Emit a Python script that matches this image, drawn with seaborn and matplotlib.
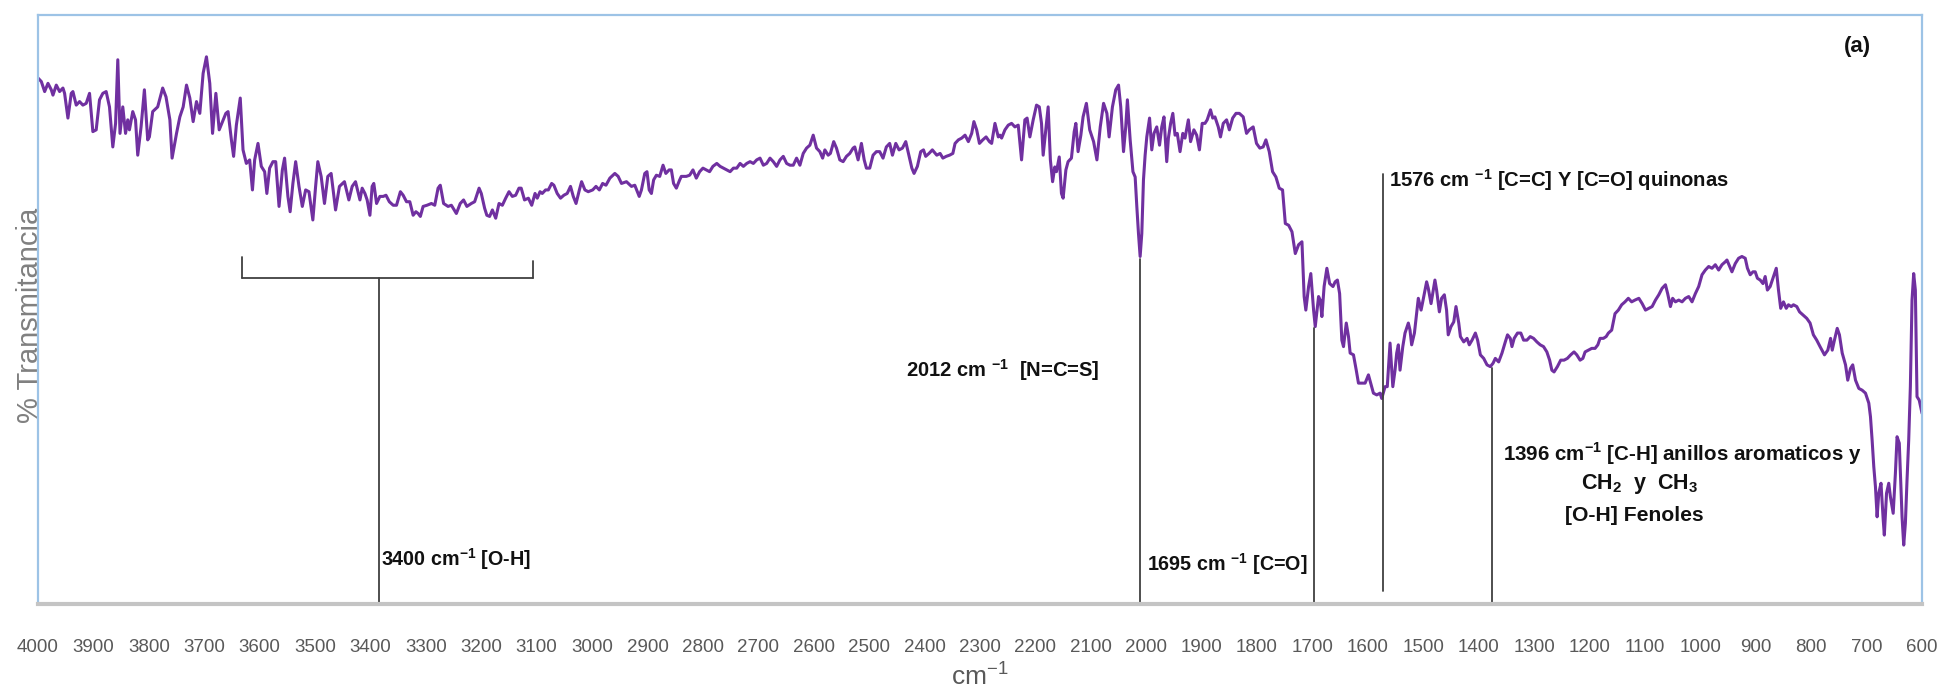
import matplotlib
matplotlib.use("Agg")
import numpy as np
import pandas as pd
import matplotlib.pyplot as plt
import seaborn as sns
from matplotlib import rcParams

# FTIR spectrum, in segments (wavenumber cm-1, % transmittance)
wn_a = [4000, 3994, 3988, 3982, 3976, 3973, 3967, 3961, 3955, 3952, 3946, 3940, 3937, 3931, 3925, 3919, 3913, 3907,
        3901, 3895, 3889, 3883, 3877, 3871, 3865, 3860, 3856, 3852, 3847, 3842, 3838, 3835, 3829, 3824, 3820, 3814,
        3808, 3802, 3799, 3793, 3784, 3775, 3769, 3762, 3758, 3750, 3744, 3738, 3732, 3726, 3720, 3714, 3708, 3702,
        3696, 3690, 3685, 3679, 3673, 3667, 3661, 3657, 3651, 3647, 3642, 3635, 3630, 3624, 3618, 3613, 3609, 3603,
        3597, 3591, 3587, 3582, 3576, 3571, 3565, 3559, 3555, 3549, 3545, 3540, 3535, 3529, 3523, 3517, 3511, 3504,
        3499, 3495, 3489, 3483, 3477, 3471, 3463, 3456, 3447, 3439, 3433, 3427, 3419]
t_a = [89.3, 88.7, 87.0, 88.4, 87.3, 86.4, 88.1, 87.0, 87.6, 86.7, 82.5, 86.7, 87.0, 84.7, 85.3, 84.7, 85.0, 86.7,
       80.2, 80.5, 85.6, 86.7, 87.0, 84.4, 77.6, 81.6, 92.4, 79.9, 84.4, 79.9, 82.2, 80.5, 83.6, 82.2, 76.2, 81.0,
       87.3, 78.8, 79.3, 83.6, 84.4, 87.6, 86.1, 82.2, 75.7, 79.9, 82.7, 84.4, 88.1, 85.9, 81.9, 85.3, 83.3, 90.1,
       92.9, 88.4, 79.9, 86.7, 80.5, 81.9, 83.3, 83.6, 78.8, 76.0, 81.3, 85.9, 77.1, 74.8, 75.4, 70.3, 75.4, 78.2,
       74.3, 73.4, 69.7, 74.0, 75.1, 75.1, 67.5, 73.7, 75.7, 69.2, 66.6, 71.4, 75.1, 70.9, 67.5, 70.3, 70.0, 65.2,
       70.9, 75.1, 72.6, 68.0, 72.6, 73.1, 66.9, 70.9, 71.7, 68.6, 70.9, 71.7, 68.6]

wn_b = [3415, 3410, 3406, 3401, 3397, 3394, 3389, 3383, 3377, 3372, 3366, 3359, 3353, 3346, 3341, 3335, 3329, 3323,
        3318, 3314, 3310, 3305, 3298, 3290, 3284, 3278, 3274, 3268, 3260, 3254, 3245, 3238, 3232, 3226, 3218, 3212,
        3204, 3200, 3194, 3190, 3185, 3180, 3174, 3168, 3162, 3156, 3150, 3144, 3138, 3132, 3128, 3122, 3115, 3109,
        3103, 3099, 3094, 3090, 3084, 3079, 3073, 3069, 3063, 3057, 3051, 3045, 3039, 3034, 3029, 3023, 3019, 3013,
        3007, 2999, 2993, 2987, 2981, 2975, 2968, 2959, 2953, 2947, 2938, 2929, 2923, 2915, 2911, 2905, 2901, 2897,
        2893, 2889, 2884, 2878, 2872, 2867, 2861, 2857, 2853, 2848, 2842]
t_b = [70.6, 69.7, 68.6, 66.0, 70.9, 71.4, 68.0, 69.2, 69.2, 69.4, 68.3, 67.7, 67.7, 70.0, 69.4, 68.3, 68.3, 66.0,
       66.6, 66.3, 65.8, 67.5, 67.7, 68.0, 67.7, 70.6, 71.1, 68.0, 67.5, 67.7, 66.3, 68.0, 68.6, 67.5, 68.0, 68.3,
       70.6, 69.7, 67.2, 66.0, 65.8, 66.9, 65.5, 68.0, 67.7, 68.9, 70.0, 69.2, 69.4, 70.6, 70.6, 68.6, 68.9, 67.7,
       69.7, 68.9, 70.0, 69.7, 70.3, 70.3, 71.4, 71.1, 69.7, 68.9, 69.4, 69.7, 70.9, 69.2, 68.0, 70.3, 71.7, 70.3,
       70.0, 70.3, 70.9, 70.3, 71.4, 71.1, 72.3, 73.1, 72.6, 71.4, 71.7, 70.9, 71.1, 69.2, 70.3, 73.1, 73.4, 70.3,
       69.7, 72.0, 72.8, 72.6, 74.5, 73.1, 73.7, 73.7, 71.4, 70.6, 72.0]

wn_c = [2839, 2830, 2824, 2818, 2812, 2806, 2800, 2794, 2788, 2782, 2775, 2769, 2763, 2757, 2751, 2745, 2739, 2733,
        2727, 2721, 2715, 2709, 2703, 2697, 2691, 2685, 2679, 2673, 2667, 2661, 2655, 2649, 2643, 2637, 2631, 2625,
        2619, 2613, 2607, 2601, 2595, 2589, 2584, 2580, 2574, 2570, 2564, 2559, 2553, 2547, 2541, 2535, 2529, 2526,
        2520, 2514, 2509, 2505, 2499, 2493, 2487, 2481, 2475, 2469, 2463, 2458, 2452, 2446, 2440, 2434, 2428, 2423,
        2419, 2413, 2407, 2402, 2398, 2392, 2386, 2378, 2372, 2367, 2361, 2355, 2349, 2345, 2339, 2333, 2327, 2321,
        2315, 2311, 2306, 2301, 2295, 2289, 2283, 2279, 2273, 2267, 2264]
t_c = [72.6, 72.6, 72.8, 73.7, 72.3, 73.4, 74.0, 73.7, 73.4, 74.3, 74.8, 74.3, 74.0, 73.7, 73.4, 74.0, 74.0, 74.8,
       74.3, 74.8, 75.1, 74.8, 75.4, 75.7, 74.5, 74.8, 75.7, 75.1, 74.3, 75.4, 76.0, 74.8, 74.5, 74.5, 75.7, 74.5,
       76.5, 77.4, 77.9, 79.6, 77.4, 76.8, 75.7, 77.1, 76.2, 76.5, 78.5, 77.4, 75.4, 75.1, 76.0, 76.5, 77.4, 77.6,
       75.4, 78.2, 75.4, 74.0, 74.0, 76.2, 76.8, 76.8, 75.7, 77.6, 78.2, 76.2, 78.2, 77.1, 77.4, 78.5, 76.0, 74.0,
       73.1, 74.3, 76.8, 77.1, 76.0, 76.5, 77.1, 76.2, 76.5, 75.7, 76.0, 76.2, 76.5, 78.2, 78.8, 79.1, 79.6, 78.5,
       79.9, 81.9, 80.5, 78.2, 78.8, 79.3, 78.5, 78.2, 81.6, 79.3, 79.6]

wn_d = [2261, 2255, 2249, 2243, 2237, 2231, 2225, 2219, 2215, 2210, 2204, 2198, 2193, 2189, 2186, 2181, 2177, 2173,
        2169, 2165, 2162, 2157, 2153, 2150, 2145, 2141, 2135, 2130, 2127, 2123, 2118, 2114, 2108, 2102, 2095, 2089,
        2083, 2077, 2071, 2067, 2061, 2055, 2050, 2046, 2041, 2037, 2034, 2029, 2024, 2020, 2017, 2014, 2011, 2008,
        2005, 2002, 1999, 1994, 1990, 1986, 1981, 1976, 1972, 1968, 1963, 1960, 1956, 1952, 1948, 1944, 1939, 1934,
        1930, 1924, 1920, 1914, 1909, 1904, 1899, 1894, 1890, 1884, 1880, 1876, 1870, 1866, 1861, 1855, 1850, 1844,
        1838, 1832, 1825, 1819, 1814, 1807, 1801, 1795, 1789, 1784, 1778, 1772, 1766, 1760, 1754, 1749, 1743, 1737,
        1731, 1725, 1719, 1715, 1712, 1707, 1703, 1698, 1695, 1689, 1686]
t_d = [79.1, 80.5, 81.3, 81.6, 81.0, 81.3, 75.4, 82.2, 82.5, 79.3, 82.2, 84.7, 84.4, 81.6, 76.2, 80.8, 84.4, 75.4,
       71.7, 74.2, 73.4, 75.9, 69.7, 68.9, 73.7, 75.1, 75.7, 80.2, 81.6, 76.8, 79.6, 82.7, 85.0, 80.5, 78.5, 75.4,
       81.0, 85.0, 83.3, 79.3, 84.4, 87.3, 88.1, 84.4, 76.8, 81.0, 85.6, 78.8, 73.4, 72.5, 67.5, 62.9, 59.0, 62.9,
       72.0, 76.2, 79.3, 82.5, 77.1, 79.9, 81.0, 77.9, 81.0, 82.7, 75.1, 79.1, 81.6, 83.3, 79.6, 79.9, 76.8, 79.9,
       79.1, 82.2, 78.5, 80.5, 79.6, 77.1, 81.6, 81.6, 82.2, 83.9, 82.5, 82.7, 81.0, 79.3, 81.6, 82.2, 80.5, 82.5,
       83.3, 83.3, 82.7, 79.9, 80.5, 81.0, 78.2, 77.4, 77.6, 78.8, 76.8, 73.4, 72.5, 70.6, 70.3, 64.6, 64.3, 63.2,
       59.5, 61.0, 61.5, 52.2, 49.9, 53.9, 56.1, 49.9, 47.1, 52.2, 51.6]

wn_e = [1683, 1679, 1674, 1669, 1663, 1659, 1655, 1651, 1647, 1644, 1639, 1635, 1632, 1626, 1621, 1617, 1611, 1605,
        1599, 1595, 1590, 1584, 1578, 1575, 1569, 1565, 1560, 1555, 1551, 1548, 1545, 1542, 1537, 1533, 1527, 1524,
        1521, 1516, 1512, 1509, 1504, 1501, 1497, 1494, 1491, 1486, 1483, 1479, 1476, 1471, 1467, 1462, 1458, 1455,
        1450, 1445, 1441, 1436, 1433, 1427, 1421, 1417, 1412, 1406, 1402, 1397, 1391, 1385, 1379, 1374, 1370, 1364,
        1358, 1352, 1348, 1343, 1340, 1336, 1330, 1324, 1319, 1313, 1307, 1301, 1295, 1289, 1283, 1277, 1272, 1268,
        1264, 1258, 1252, 1246, 1240, 1234, 1228, 1223, 1217, 1212, 1208, 1202, 1196, 1190, 1185, 1181, 1175, 1170,
        1166, 1160, 1154, 1148, 1142, 1136, 1130]
t_e = [48.8, 53.9, 57.0, 54.4, 53.9, 54.7, 55.0, 52.7, 44.8, 43.7, 47.7, 45.4, 42.6, 42.3, 39.7, 37.5, 37.5, 37.5,
       38.9, 37.5, 35.8, 35.5, 35.8, 34.9, 36.9, 36.9, 44.3, 36.9, 39.7, 42.6, 44.0, 39.7, 43.7, 46.0, 47.7, 46.5,
       44.0, 46.0, 49.3, 51.9, 49.9, 51.3, 53.3, 54.7, 53.6, 51.0, 52.7, 55.0, 53.3, 49.6, 51.9, 52.5, 49.9, 45.7,
       47.1, 47.9, 50.5, 47.7, 45.4, 44.5, 45.1, 44.0, 44.8, 46.0, 44.8, 42.3, 41.7, 40.6, 40.3, 40.9, 41.7, 41.1,
       42.6, 44.5, 45.7, 45.1, 43.7, 45.1, 46.0, 46.0, 44.8, 44.8, 45.4, 45.1, 44.5, 44.0, 43.7, 42.8, 41.4, 39.7,
       39.4, 40.3, 41.4, 41.4, 41.7, 42.3, 42.8, 42.3, 41.4, 41.7, 42.8, 43.1, 43.4, 43.4, 44.0, 45.1, 45.1, 45.4,
       46.0, 46.5, 49.3, 49.9, 50.8, 51.3, 51.9]

wn_f = [1124, 1118, 1111, 1105, 1099, 1093, 1087, 1081, 1075, 1069, 1063, 1059, 1054, 1050, 1045, 1039, 1033, 1027,
        1021, 1015, 1009, 1003, 997, 991, 985, 979, 973, 967, 961, 955, 952, 947, 943, 937, 931, 925, 919, 915, 910,
        905, 901, 897, 892, 887, 883, 879, 874, 868, 863, 859, 855, 850, 845, 841, 836, 832, 826, 821, 815, 808, 802,
        796, 790, 784, 776, 770, 765, 762, 758, 753, 749, 744, 738, 734, 729, 725, 720, 714, 708, 702, 696, 693, 690,
        687, 684, 681, 678, 674, 670, 668, 664, 660, 657, 652, 648, 645, 641, 639, 636, 633, 630, 627, 624, 621, 618,
        615, 612, 609, 605, 600]
t_f = [51.3, 51.6, 51.9, 51.0, 49.9, 50.2, 50.5, 51.6, 52.5, 53.6, 54.2, 52.7, 50.5, 51.9, 51.3, 51.6, 51.3, 51.9,
       52.2, 51.3, 52.7, 53.9, 55.9, 56.7, 57.3, 57.0, 57.6, 56.7, 57.6, 58.1, 58.4, 57.3, 56.4, 57.8, 58.7, 59.0,
       58.7, 57.0, 55.9, 56.4, 56.4, 55.3, 55.0, 54.4, 55.6, 53.3, 53.9, 55.6, 57.0, 53.3, 50.2, 51.3, 50.2, 50.8,
       50.5, 50.8, 50.5, 49.6, 49.1, 48.5, 47.7, 45.7, 44.8, 43.7, 42.3, 43.1, 45.1, 43.1, 44.8, 46.8, 45.7, 42.6,
       40.6, 38.0, 40.0, 40.6, 38.0, 36.6, 36.3, 35.8, 34.1, 31.8, 27.8, 23.3, 19.9, 14.8, 18.8, 20.5, 14.3, 11.7,
       18.8, 20.5, 18.2, 15.4, 22.2, 28.4, 27.3, 22.2, 14.8, 10.0, 13.7, 21.1, 27.8, 36.9, 51.6, 56.1, 53.3, 35.2,
       34.6, 32.4]

# band markers: position, top of the line, bottom of the line
band_pos = [2011, 1697, 1573, 1376]
band_top = [58.6, 46.8, 73.0, 40.0]
band_bottom = [0, 0, 2.2, 0]

# O-H bracket
bracket_left, bracket_right, bracket_stem = 3632, 3107, 3385
bracket_y, bracket_left_top, bracket_right_top = 55.3, 58.9, 58.2

tick_values = list(range(4000, 599, -100))
tick_labels = [str(v) for v in tick_values]

wn = wn_a + wn_b + wn_c + wn_d + wn_e + wn_f
trans = t_a + t_b + t_c + t_d + t_e + t_f

df = pd.DataFrame({"wavenumber": wn, "transmittance": trans})

sns.set_style("white")
rcParams["font.family"] = ["Liberation Sans", "DejaVu Sans"]
rcParams["mathtext.fontset"] = "custom"
rcParams["mathtext.rm"] = "Liberation Sans"
rcParams["mathtext.bf"] = "Liberation Sans:bold"

fig = plt.figure(figsize=(19.44, 6.93), dpi=100)
ax = fig.add_axes([38 / 1944, 1 - 604 / 693, 1884 / 1944, 589 / 693])

sns.lineplot(data=df, x="wavenumber", y="transmittance", sort=False,
             color="#7030A0", linewidth=2.2, ax=ax)

ax.set_xlim(4000, 600)
ax.set_ylim(0, 100)
ax.set_yticks([])
ax.set_xticks(tick_values)
ax.set_xticklabels(tick_labels, fontsize=13.5, color="#595959")
ax.tick_params(axis="x", length=0, pad=25)

for side in ["left", "top", "right"]:
    ax.spines[side].set_color("#9DC3E6")
    ax.spines[side].set_linewidth(1.6)
ax.spines["bottom"].set_color("#C4C4C4")
ax.spines["bottom"].set_linewidth(3)

ax.set_xlabel("cm$^{-1}$", fontsize=19, color="#595959")
ax.xaxis.set_label_coords(0.5, -0.098)
ax.set_ylabel("% Transmitancia", fontsize=21, color="#808080")
ax.yaxis.set_label_coords(0.003, 0.49)

line_kw = dict(color="#404040", linewidth=1.3)
for x, top, bot in zip(band_pos, band_top, band_bottom):
    ax.plot([x, x], [bot, top], **line_kw)
ax.plot([bracket_left, bracket_right], [bracket_y, bracket_y], **line_kw)
ax.plot([bracket_left, bracket_left], [bracket_y, bracket_left_top], **line_kw)
ax.plot([bracket_right, bracket_right], [bracket_y, bracket_right_top], **line_kw)
ax.plot([bracket_stem, bracket_stem], [0, bracket_y], **line_kw)

txt = dict(fontweight="bold", color="#111111", va="center")
ax.text(3381, 7.6, r"3400 cm$^{\mathbf{-1}}$ [O-H]", ha="left", fontsize=14.2, **txt)
ax.text(2433, 39.7, r"2012 cm $^{\mathbf{-1}}$  [N=C=S]", ha="left", fontsize=14.5, **txt)
ax.text(1998, 6.8, r"1695 cm $^{\mathbf{-1}}$ [C=O]", ha="left", fontsize=14.2, **txt)
ax.text(1562, 72.0, r"1576 cm $^{\mathbf{-1}}$ [C=C] Y [C=O] quinonas", ha="left", fontsize=14.6, **txt)
ax.text(1356, 25.5, r"1396 cm$^{\mathbf{-1}}$ [C-H] anillos aromaticos y", ha="left", fontsize=14.8, **txt)
ax.text(1110, 20.4, r"CH$_{\mathbf{2}}$  y  CH$_{\mathbf{3}}$", ha="center", fontsize=15.5, **txt)
ax.text(1119, 15.1, "[O-H] Fenoles", ha="center", fontsize=15.2, **txt)
ax.text(717, 94.7, "(a)", ha="center", fontsize=16, **txt)

fig.savefig("out.png", dpi=100)
